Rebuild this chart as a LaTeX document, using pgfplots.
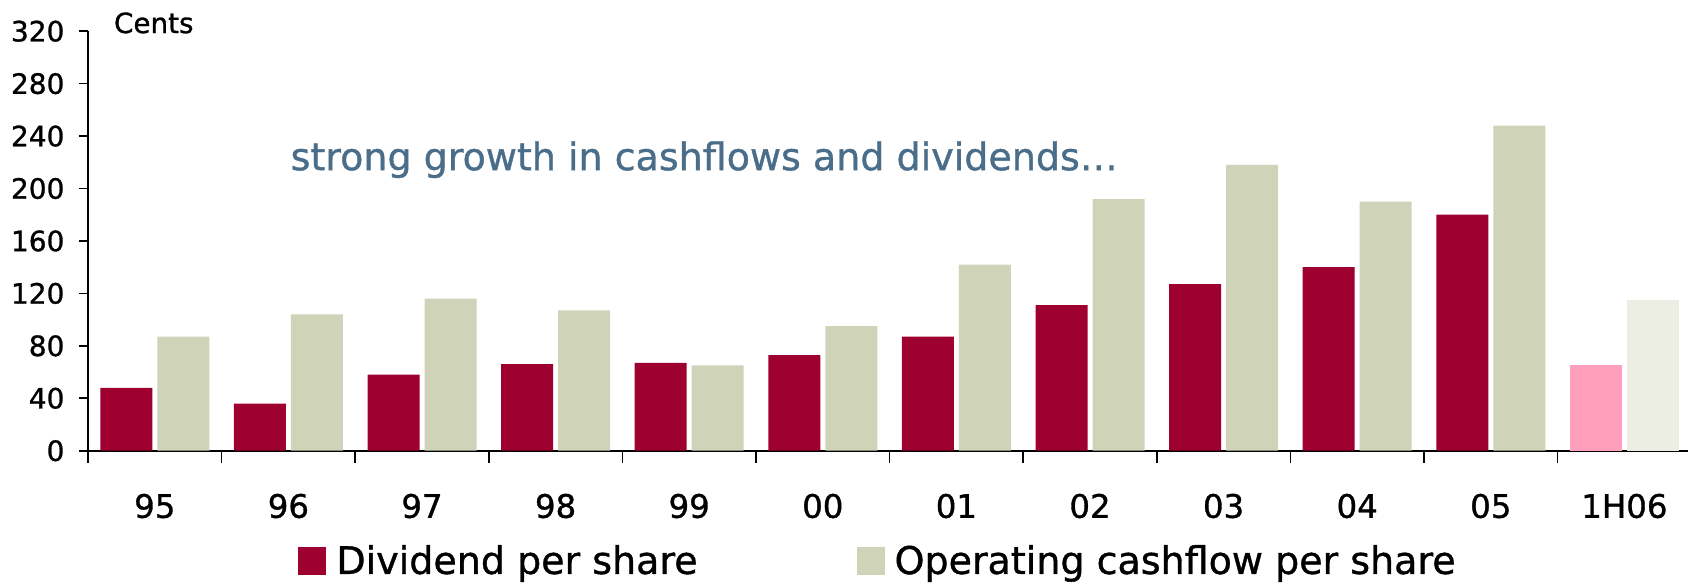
\documentclass[border=0pt]{standalone}
\usepackage{fontspec}
\setmainfont{DejaVu Sans}
\newfontfamily\medfont{DejaVu Sans}[FakeBold=1.0]
\usepackage{pgfplots}
\pgfplotsset{compat=1.18}
\definecolor{divred}{HTML}{9E0030}
\definecolor{ocfgreen}{HTML}{CFD4B8}
\definecolor{divpink}{HTML}{FF9FBC}
\definecolor{ocflight}{HTML}{ECEDE3}
\definecolor{notecolor}{HTML}{4A6E8A}

\pgfplotsset{
  squarelegend/.style={
      legend image code/.code={\fill[##1] (0pt,-7pt) rectangle (14pt,7pt);},
    },
}

\begin{document}
\begin{tikzpicture}
\useasboundingbox (0,0) rectangle (844pt,293pt);
\begin{axis}[
    at={(44pt,67.65pt)}, anchor=south west,
    scale only axis,
    width=800pt, height=209.75pt,
    xmin=-0.5, xmax=11.476,
    ymin=0, ymax=320,
    axis x line=bottom, axis y line=left,
    axis line style={-, black, line width=0.8pt},
    ybar, bar width=26pt,
    ytick={0,40,...,320},
    xtick={0,...,11},
    xticklabels={95,96,97,98,99,00,01,02,03,04,05,1H06},
    minor xtick={-0.5,0.5,...,10.5},
    tick align=outside,
    major tick length=4.5pt,
    minor tick length=6pt,
    tick style={black, line width=0.8pt},
    every major x tick/.append style={draw=none},
    /pgf/number format/assume math mode=true,
    yticklabel style={font=\medfont\fontsize{14}{16}\selectfont, xshift=-3.75pt},
    xticklabel style={font=\medfont\fontsize{16.2}{19}\selectfont, yshift=-13.5pt},
    clip=false,
    legend columns=2,
    legend cell align=left,
    legend style={
        at={(0.13125,-0.2629)}, anchor=west,
        draw=none, fill=none, inner sep=0pt,
        nodes={inner sep=0pt},
        font=\medfont\fontsize{19}{22}\selectfont,
        /tikz/every odd column/.append style={column sep=5pt},
        /tikz/every even column/.append style={column sep=79.5pt},
      },
  ]

  % Dividend per share
  \addplot[fill=divred, draw=none, bar shift=-14.25pt, squarelegend] coordinates {
      (0,48) (1,36) (2,58) (3,66) (4,67) (5,73)
      (6,87) (7,111) (8,127) (9,140) (10,180)
    };
  \addlegendentry{Dividend per share}

  % Operating cashflow per share
  \addplot[fill=ocfgreen, draw=none, bar shift=14.25pt, squarelegend] coordinates {
      (0,87) (1,104) (2,116) (3,107) (4,65) (5,95)
      (6,142) (7,192) (8,218) (9,190) (10,248)
    };
  \addlegendentry{Operating cashflow per share}

  % Half year 2006 in lighter shades
  \addplot[fill=divpink, draw=none, bar shift=-14.25pt, forget plot] coordinates {(11,65)};
  \addplot[fill=ocflight, draw=none, bar shift=14.25pt, forget plot] coordinates {(11,115)};

  \node[anchor=base west, font=\medfont\fontsize{13.9}{16}\selectfont] at (axis cs:-0.358,318.6) {Cents};
  \node[anchor=base west, text=notecolor, font=\medfont\fontsize{19}{22}\selectfont]
    at (axis cs:0.964,214) {strong growth in cashflows and dividends…};

\end{axis}
\end{tikzpicture}
\end{document}
